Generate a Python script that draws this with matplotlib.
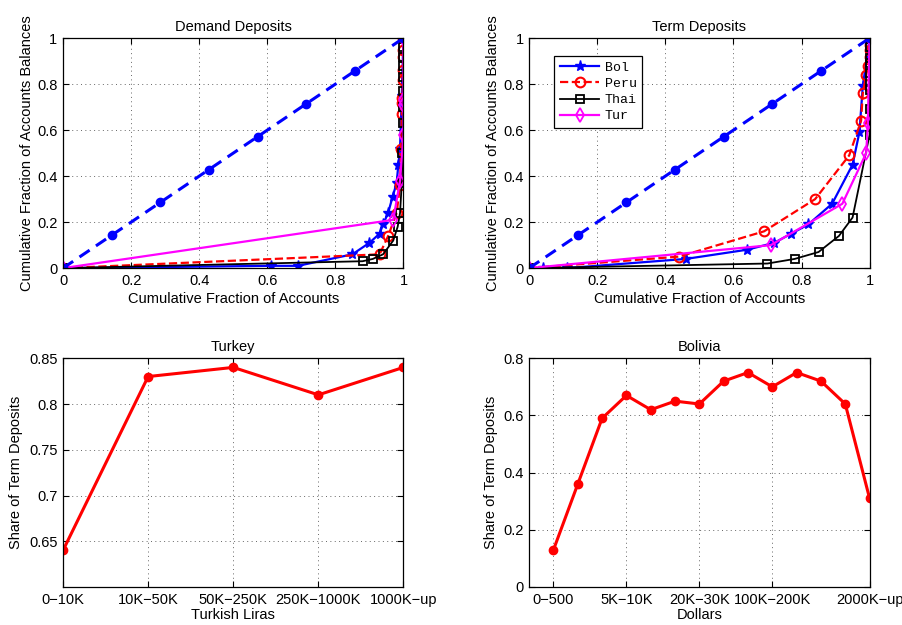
import numpy as np
import matplotlib
matplotlib.use('Agg')
import matplotlib.pyplot as plt

plt.rcParams['font.family'] = ['Liberation Sans', 'DejaVu Sans']
plt.rcParams['font.size'] = 10.5

# 45 degree reference line
eq_x = [0, 1/7, 2/7, 3/7, 4/7, 5/7, 6/7, 1]
eq_y = [0, 1/7, 2/7, 3/7, 4/7, 5/7, 6/7, 1]

# Demand deposits (Lorenz curves)
dem_bol_x = [0, 0.61, 0.69, 0.85, 0.90, 0.93, 0.94, 0.955, 0.968, 0.98, 0.985, 0.99, 0.995, 1.0]
dem_bol_y = [0, 0.01, 0.01, 0.06, 0.11, 0.15, 0.19, 0.24, 0.31, 0.37, 0.45, 0.52, 0.75, 1.0]
dem_peru_x = [0, 0.93, 0.955, 0.98, 0.99, 0.993, 0.995, 0.996, 0.997, 0.998, 0.999, 1.0, 1.0, 1.0]
dem_peru_y = [0, 0.06, 0.14, 0.24, 0.36, 0.52, 0.67, 0.72, 0.74, 0.82, 0.86, 0.92, 0.95, 1.0]
dem_thai_x = [0, 0.88, 0.91, 0.94, 0.97, 0.983, 0.99, 0.995, 0.997, 0.998, 0.999, 0.999, 1.0, 1.0, 1.0, 1.0, 1.0]
dem_thai_y = [0, 0.03, 0.04, 0.06, 0.12, 0.18, 0.24, 0.37, 0.50, 0.63, 0.70, 0.77, 0.83, 0.88, 0.92, 0.96, 1.0]
dem_tur_x = [0, 0.97, 0.99, 1.0, 1.0, 1.0, 1.0]
dem_tur_y = [0, 0.21, 0.38, 0.58, 0.71, 0.73, 1.0]

# Term deposits (Lorenz curves)
term_bol_x = [0, 0.04, 0.11, 0.46, 0.64, 0.72, 0.77, 0.82, 0.89, 0.95, 0.97, 0.98, 1.0]
term_bol_y = [0, 0.0, 0.0, 0.04, 0.08, 0.11, 0.15, 0.19, 0.28, 0.45, 0.59, 0.79, 1.0]
term_peru_x = [0, 0.44, 0.69, 0.84, 0.94, 0.975, 0.98, 0.99, 0.995, 1.0, 1.0, 1.0, 1.0]
term_peru_y = [0, 0.05, 0.16, 0.30, 0.49, 0.64, 0.76, 0.84, 0.88, 0.92, 0.95, 0.97, 1.0]
term_thai_x = [0, 0.70, 0.78, 0.85, 0.91, 0.95, 1.0, 1.0, 1.0, 1.0, 1.0, 1.0, 1.0, 1.0, 1.0]
term_thai_y = [0, 0.02, 0.04, 0.07, 0.14, 0.22, 0.58, 0.69, 0.775, 0.815, 0.85, 0.89, 0.913, 0.96, 1.0]
term_tur_x = [0, 0.71, 0.92, 0.99, 0.995, 1.0]
term_tur_y = [0, 0.10, 0.28, 0.50, 0.63, 1.0]

# Turkey: share of term deposits by balance size
tr_labels = ['0\u221210K', '10K\u221250K', '50K\u2212250K', '250K\u22121000K', '1000K\u2212up']
tr_share = [0.64, 0.83, 0.84, 0.81, 0.84]

# Bolivia: share of term deposits by balance size
bo_share = [0.13, 0.36, 0.59, 0.67, 0.62, 0.65, 0.64, 0.72, 0.75, 0.70, 0.75, 0.72, 0.64, 0.31]
bo_tick_pos = [1, 4, 7, 10, 14]
bo_tick_labels = ['0\u2212500', '5K\u221210K', '20K\u221230K', '100K\u2212200K', '2000K\u2212up']

FS = 10.5


def matlab_style(ax):
    ax.grid(True, linestyle=(0, (1, 3.5)), color='black', linewidth=0.7, alpha=0.6)
    ax.tick_params(direction='in', top=True, right=True, length=4, width=0.8,
                   labelsize=FS, pad=4)
    for s in ax.spines.values():
        s.set_linewidth(0.9)


fig = plt.figure(figsize=(9.03, 6.25), dpi=100)
ax1 = fig.add_axes([0.0698, 0.571, 0.377, 0.368])
ax2 = fig.add_axes([0.586, 0.571, 0.377, 0.368])
ax3 = fig.add_axes([0.0698, 0.0608, 0.377, 0.366])
ax4 = fig.add_axes([0.586, 0.0608, 0.377, 0.366])

curves = [
    (ax1, 'Demand Deposits', dem_bol_x, dem_bol_y, dem_peru_x, dem_peru_y,
     dem_thai_x, dem_thai_y, dem_tur_x, dem_tur_y),
    (ax2, 'Term Deposits', term_bol_x, term_bol_y, term_peru_x, term_peru_y,
     term_thai_x, term_thai_y, term_tur_x, term_tur_y),
]

for ax, title, bx, by, px, py, thx, thy, tx, ty in curves:
    ax.plot(bx, by, color='blue', marker='*', markersize=8, linewidth=1.6, label='Bol')
    ax.plot(px, py, color='red', linestyle='--', marker='o', markersize=7,
            markerfacecolor='none', markeredgewidth=1.5, linewidth=1.6, label='Peru')
    ax.plot(thx, thy, color='black', marker='s', markersize=6,
            markerfacecolor='none', markeredgewidth=1.3, linewidth=1.3, label='Thai')
    ax.plot(tx, ty, color='magenta', marker='d', markersize=7,
            markerfacecolor='none', markeredgewidth=1.3, linewidth=1.6, label='Tur')
    ax.plot(eq_x, eq_y, color='blue', linestyle='--', marker='o', markersize=6,
            linewidth=2.2, dashes=(4, 2.5))
    ax.set_xlim(0, 1)
    ax.set_ylim(0, 1)
    ax.set_xticks(np.arange(0, 1.01, 0.2))
    ax.set_yticks(np.arange(0, 1.01, 0.2))
    ax.set_xticklabels(['0', '0.2', '0.4', '0.6', '0.8', '1'])
    ax.set_yticklabels(['0', '0.2', '0.4', '0.6', '0.8', '1'])
    ax.set_title(title, fontsize=FS, pad=5)
    ax.set_xlabel('Cumulative Fraction of Accounts', fontsize=FS, labelpad=3)
    ax.set_ylabel('Cumulative Fraction of Accounts Balances', fontsize=FS, labelpad=2)
    matlab_style(ax)

leg = ax2.legend(loc='upper left', bbox_to_anchor=(0.055, 0.95),
                 prop={'family': 'Liberation Mono', 'size': 9.5},
                 frameon=True, fancybox=False, edgecolor='black', handlelength=3.0,
                 borderpad=0.4, labelspacing=0.3, handletextpad=0.4, framealpha=1)
leg.get_frame().set_linewidth(0.9)

# Turkey
tr_x = np.arange(1, len(tr_share) + 1)
ax3.plot(tr_x, tr_share, color='red', marker='o', markersize=6, linewidth=2.2)
ax3.set_xlim(1, 5)
ax3.set_ylim(0.6, 0.85)
ax3.set_xticks(tr_x)
ax3.set_xticklabels(tr_labels)
ax3.set_yticks([0.65, 0.7, 0.75, 0.8, 0.85])
ax3.set_yticklabels(['0.65', '0.7', '0.75', '0.8', '0.85'])
ax3.set_title('Turkey', fontsize=FS, pad=5)
ax3.set_xlabel('Turkish Liras', fontsize=FS, labelpad=1)
ax3.set_ylabel('Share of Term Deposits', fontsize=FS, labelpad=4)
matlab_style(ax3)

# Bolivia
bo_x = np.arange(1, len(bo_share) + 1)
ax4.plot(bo_x, bo_share, color='red', marker='o', markersize=6, linewidth=2.2)
ax4.set_xlim(0, 14)
ax4.set_ylim(0, 0.8)
ax4.set_xticks(bo_tick_pos)
ax4.set_xticklabels(bo_tick_labels)
ax4.set_yticks([0, 0.2, 0.4, 0.6, 0.8])
ax4.set_yticklabels(['0', '0.2', '0.4', '0.6', '0.8'])
ax4.set_title('Bolivia', fontsize=FS, pad=5)
ax4.set_xlabel('Dollars', fontsize=FS, labelpad=1)
ax4.set_ylabel('Share of Term Deposits', fontsize=FS, labelpad=4)
matlab_style(ax4)

fig.savefig('out.png', dpi=100)
